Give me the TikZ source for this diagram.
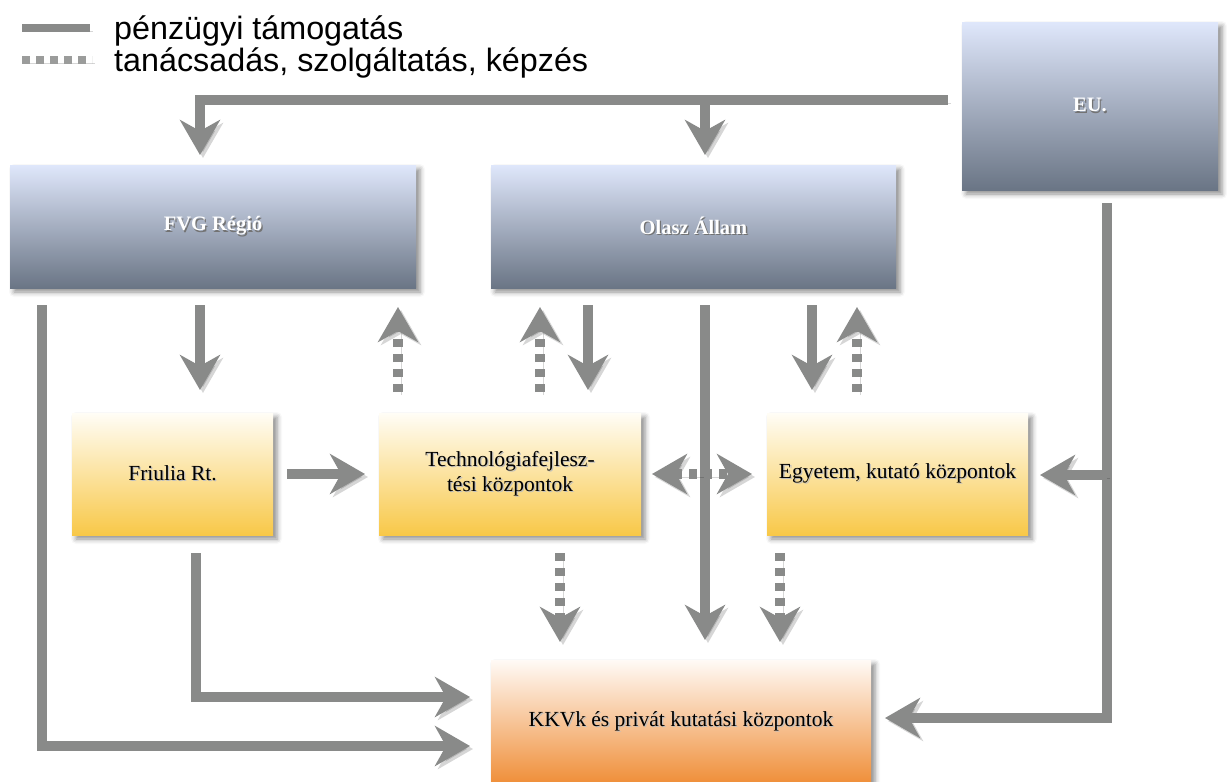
\documentclass[tikz,border=0pt]{standalone}
\usepackage{fontspec}
\setmainfont{Liberation Serif}
\newfontfamily\legendfont{Liberation Sans}
\usetikzlibrary{arrows.meta,shadows.blur,calc}

\definecolor{flow}{RGB}{137,138,137}
\definecolor{bluetop}{RGB}{223,231,251}
\definecolor{bluebot}{RGB}{106,117,133}
\definecolor{yeltop}{RGB}{255,253,246}
\definecolor{yelbot}{RGB}{248,200,72}
\definecolor{ortop}{RGB}{255,250,246}
\definecolor{orbot}{RGB}{239,142,56}

% text with a small soft shadow behind it
\newcommand\shtext[2]{\leavevmode\rlap{\hspace{1.3pt}\raisebox{-1.3pt}{\textcolor{#1}{#2}}}#2}

\tikzset{
  box/.style={anchor=north west, inner sep=0pt, outer sep=0pt,
    blur shadow={shadow xshift=4pt, shadow yshift=-4pt, shadow blur radius=5pt, shadow opacity=45},
    font=\fontsize{21.5}{25}\selectfont, align=center},
  govbox/.style={box, top color=bluetop, bottom color=bluebot, text=white,
    font=\fontsize{20.5}{25}\selectfont\bfseries},
  orgbox/.style={box, top color=yeltop, bottom color=yelbot, text=black},
  firmbox/.style={box, top color=ortop, bottom color=orbot, text=black},
  legend/.style={anchor=base west, inner sep=0pt, font=\legendfont\fontsize{32.3}{34}\selectfont},
  >={Stealth[length=35pt,width=40pt,inset=11pt]},
  fin/.style={draw=flow, line width=10pt, line cap=butt, line join=miter,
    preaction={draw=black, opacity=.16, transform canvas={shift={(3pt,-3pt)}}}},
  adv/.style={fin, dash pattern=on 8pt off 7pt},
}

\begin{document}
\begin{tikzpicture}[x=1pt,y=-1pt]
\useasboundingbox (0,0) rectangle (1227,782);

% legend
\draw[fin, line width=8pt] (22,28) -- (90,28);
\draw[adv, line width=8pt, dash pattern=on 8pt off 6pt, draw=flow!85] (22,60) -- (92,60);
\node[legend] (lgfin) at (114,39) {pénzügyi támogatás};
\node[legend] (lgadv) at (114,71) {tanácsadás, szolgáltatás, képzés};

% boxes
\node[govbox, minimum width=256pt, minimum height=168pt] (eu) at (962,22) {\shtext{black!55}{EU.}};
\node[govbox, minimum width=406pt, minimum height=123pt] (fvg) at (10,165) {\shtext{black!55}{FVG Régió}};
\node[govbox, minimum width=405pt, minimum height=123pt] (allam) at (491,165) {\shtext{black!55}{Olasz Állam}};
\node[orgbox, minimum width=201pt, minimum height=122pt] (fri) at (72,413) {\shtext{black!25}{Friulia Rt.}};
\node[orgbox, minimum width=262pt, minimum height=122pt] (tech) at (379,413) {\shtext{black!25}{Technológiafejlesz-}\\\shtext{black!25}{tési központok}};
\node[orgbox, minimum width=261pt, minimum height=122pt] (egy) at (767,413) {\shtext{black!25}{Egyetem, kutató központok}};
\node[firmbox, minimum width=380pt, minimum height=124pt] (kkv) at (491,660) {\shtext{black!25}{KKVk és privát kutatási központok}};

% junctions of the connectors
\coordinate (jfvg) at (200,100);
\coordinate (jall) at (705,100);
\coordinate (jkkv) at (1107,718);
\coordinate (jegy) at (1107,475);
\coordinate (jfri) at (196,697);
\coordinate (jreg) at (42,746);
\coordinate (c398) at (398,0);
\coordinate (c540) at (540,0);
\coordinate (c588) at (588,0);
\coordinate (c812) at (812,0);
\coordinate (c857) at (857,0);
\coordinate (c560) at (560,0);
\coordinate (c780) at (780,0);

% EU funding
\draw[fin, ->, shorten <=14pt, shorten >=10pt] (eu.west |- jfvg) -- (jfvg) -- (fvg.north -| jfvg);
\draw[fin, ->, shorten >=10pt] (jall) -- (allam.north -| jall);
\draw[fin, ->, shorten <=13pt, shorten >=14pt] (eu.south -| jkkv) -- (jkkv) -- (kkv.east |- jkkv);
\draw[fin, ->, shorten >=12pt] (jegy) -- (egy.east |- jegy);

% region and state
\draw[fin, ->, shorten <=17pt, shorten >=23pt] (fvg.south -| jfvg) -- (fri.north -| jfvg);
\draw[fin, ->, shorten <=17pt, shorten >=23pt] (allam.south -| c588) -- (tech.north -| c588);
\draw[fin, ->, shorten <=17pt, shorten >=20pt] (allam.south -| jall) -- (kkv.north -| jall);
\draw[fin, ->, shorten <=17pt, shorten >=23pt] (allam.south -| c812) -- (egy.north -| c812);
\draw[fin, ->, shorten <=17pt, shorten >=21pt] (fvg.south -| jreg) -- (jreg) -- (kkv.west |- jreg);

% Friulia
\draw[fin, ->, shorten <=14pt, shorten >=14pt] (fri.east) -- (tech.west);
\draw[fin, ->, shorten <=18pt, shorten >=21pt] (fri.south -| jfri) -- (jfri) -- (kkv.west |- jfri);

% advisory services
\draw[adv, ->, shorten <=21pt, shorten >=19pt] (tech.north -| c398) -- (fvg.south -| c398);
\draw[adv, ->, shorten <=21pt, shorten >=19pt] (tech.north -| c540) -- (allam.south -| c540);
\draw[adv, ->, shorten <=21pt, shorten >=19pt] (egy.north -| c857) -- (allam.south -| c857);
\draw[adv, <->, shorten <=11pt, shorten >=15pt] (tech.east) -- (egy.west);
\draw[adv, ->, shorten <=18pt, shorten >=18pt] (tech.south -| c560) -- (kkv.north -| c560);
\draw[adv, ->, shorten <=18pt, shorten >=18pt] (egy.south -| c780) -- (kkv.north -| c780);
\end{tikzpicture}
\end{document}
